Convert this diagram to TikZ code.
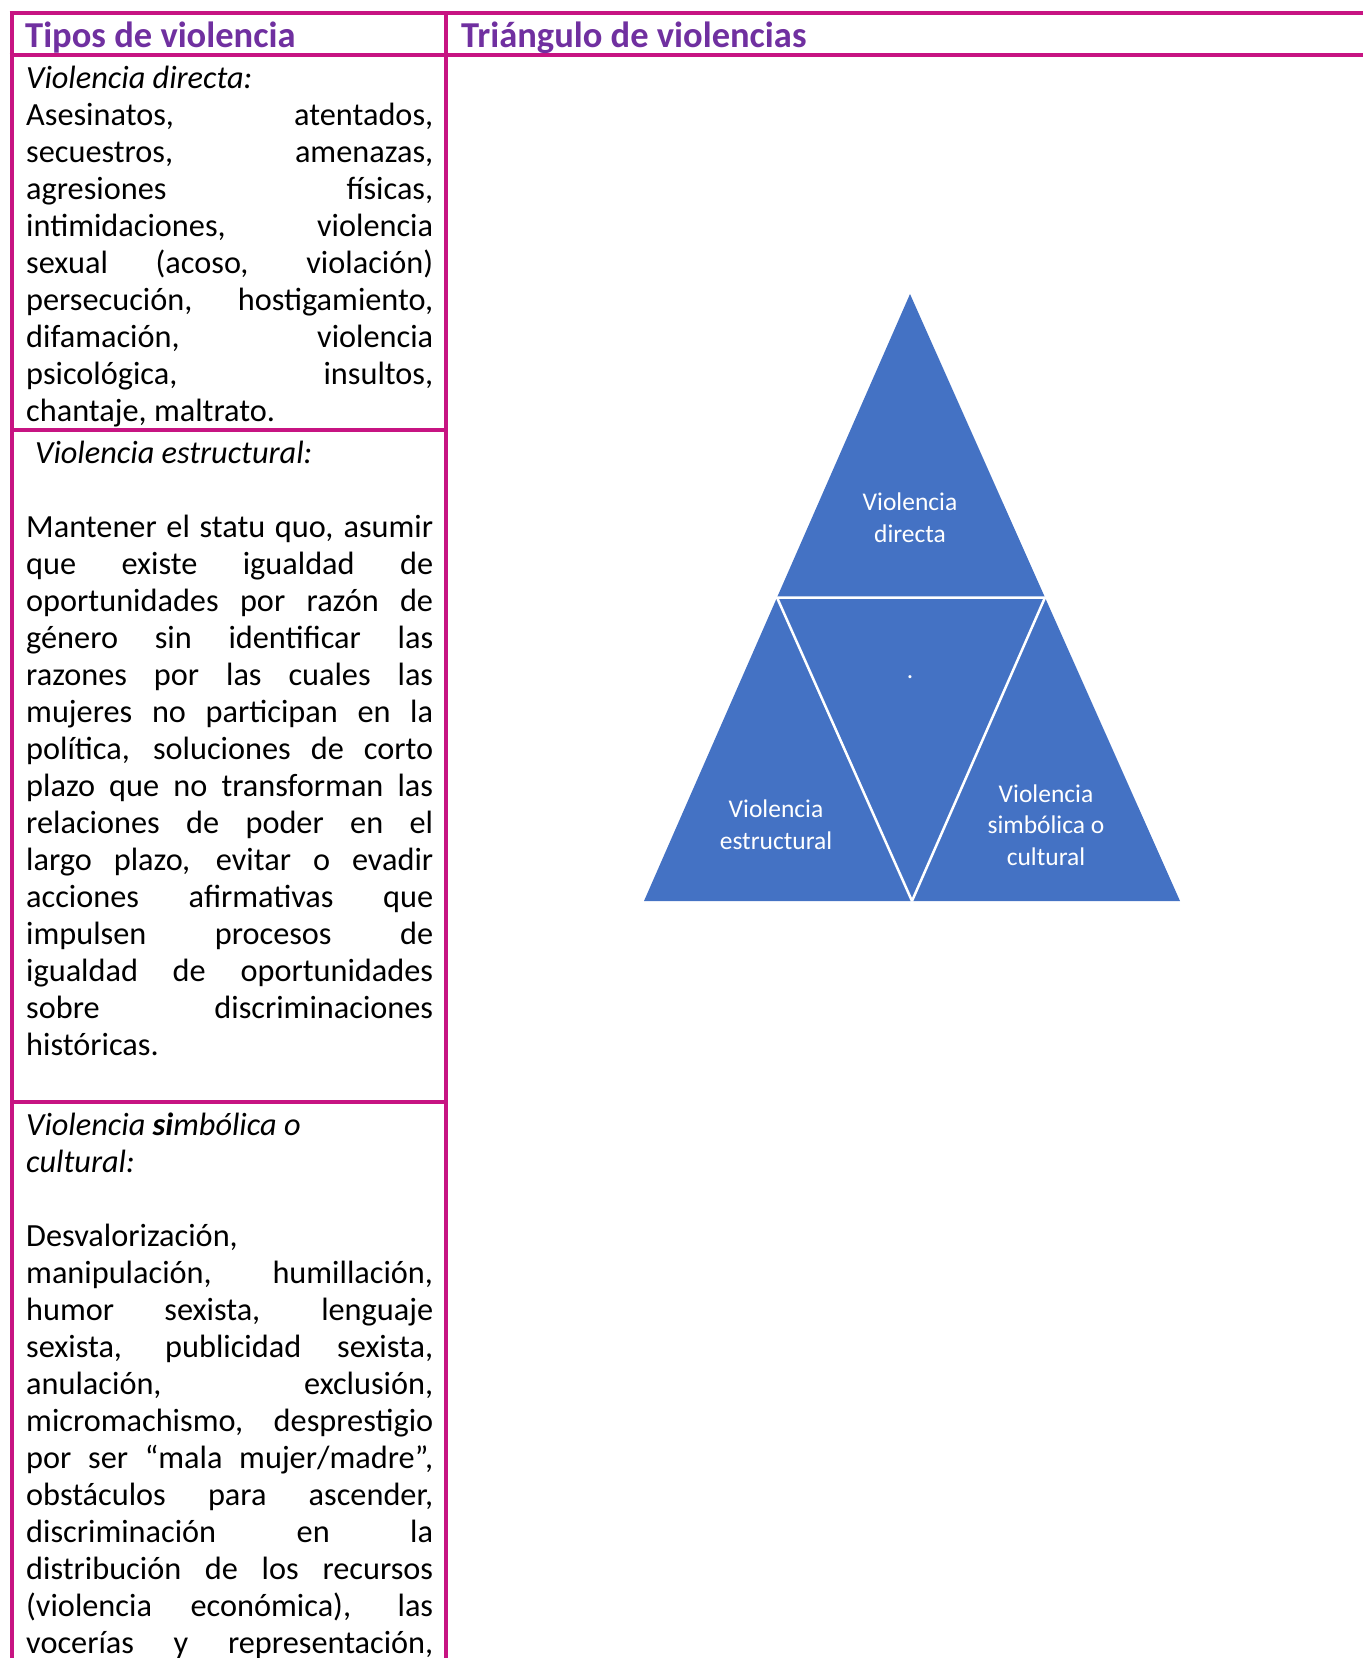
\documentclass[tikz,border=0pt]{standalone}
\usepackage{fontspec}
\setmainfont{Carlito}
\definecolor{borde}{RGB}{199,20,130}
\definecolor{morado}{RGB}{112,48,160}
\definecolor{azul}{RGB}{68,114,196}
\newcommand{\justa}[1]{{\spaceskip=0pt\xspaceskip=0pt\makebox[407pt][s]{#1}}}
\tikzset{
  marco/.style={line width=4pt, color=borde},
  titulo/.style={anchor=base west, inner sep=0pt, text=morado, font=\fontsize{36.5}{40}\selectfont\bfseries},
  celda/.style={anchor=base west, inner sep=0pt, text width=407pt, align=flush left, font=\fontsize{32.3}{37}\selectfont},
  etiqueta/.style={align=center, text=white, inner sep=0pt, font=\fontsize{25.5}{31.7}\selectfont}
}
\begin{document}
\begin{tikzpicture}[x=1pt, y=-1pt]
      \useasboundingbox (0,0) rectangle (1363,1658);
      \def\xa{11.5}
      \def\xb{446}
      \def\xc{1363}
      % tabla
      \draw[marco] (\xa-2,13) -- (\xc,13);
      \draw[marco] (\xa-2,55) -- (\xc,55);
      \draw[marco] (\xa,430) -- (\xb,430);
      \draw[marco] (\xa,1102) -- (\xb,1102);
      \draw[marco] (\xa,11) -- (\xa,1658);
      \draw[marco] (\xb,11) -- (\xb,1658);
      \node[titulo] (tipos) at (25,47.5) {Tipos de violencia};
      \node[titulo] (triangulo) at (461,47.5) {Triángulo de violencias};
      \node[celda] (directa-txt) at (26,88.7) {\textit{Violencia directa:}\\
        \justa{Asesinatos, atentados,}\\
        \justa{secuestros, amenazas,}\\
        \justa{agresiones físicas,}\\
        \justa{intimidaciones, violencia}\\
        \justa{sexual (acoso, violación)}\\
        \justa{persecución, hostigamiento,}\\
        \justa{difamación, violencia}\\
        \justa{psicológica, insultos,}\\
        chantaje, maltrato.};
      \node[celda] (estructural-txt) at (26,463) {\hspace*{9pt}\textit{Violencia estructural:}\\[37pt]
        \justa{Mantener el statu quo, asumir}\\
        \justa{que existe igualdad de}\\
        \justa{oportunidades por razón de}\\
        \justa{género sin identificar las}\\
        \justa{razones por las cuales las}\\
        \justa{mujeres no participan en la}\\
        \justa{política, soluciones de corto}\\
        \justa{plazo que no transforman las}\\
        \justa{relaciones de poder en el}\\
        \justa{largo plazo, evitar o evadir}\\
        \justa{acciones afirmativas que}\\
        \justa{impulsen procesos de}\\
        \justa{igualdad de oportunidades}\\
        \justa{sobre discriminaciones}\\
        históricas.};
      \node[celda] (simbolica-txt) at (26,1135) {\textit{Violencia \textbf{si}mbólica o}\\
        \textit{cultural:}\\[37pt]
        Desvalorización,\\
        \justa{manipulación, humillación,}\\
        \justa{humor sexista, lenguaje}\\
        \justa{sexista, publicidad sexista,}\\
        \justa{anulación, exclusión,}\\
        \justa{micromachismo, desprestigio}\\
        \justa{por ser “mala mujer/madre”,}\\
        \justa{obstáculos para ascender,}\\
        \justa{discriminación en la}\\
        \justa{distribución de los recursos}\\
        \justa{(violencia económica), las}\\
        \justa{vocerías y representación,}};
      % triangulo
      \coordinate (cima) at (910,294);
      \coordinate (izq) at (644,901);
      \coordinate (der) at (1180,901);
      \coordinate (mi) at (777,597.5);
      \coordinate (md) at (1045,597.5);
      \coordinate (mb) at (912,901);
      \fill[azul] (cima) -- (izq) -- (der) -- cycle;
      \draw[white, line width=2.5pt, line join=bevel] (mi) -- (md) -- (mb) -- cycle;
      \node[etiqueta] (directa) at (910,518) {Violencia\\directa};
      \node[etiqueta] (estructural) at (776,825) {Violencia\\estructural};
      \node[etiqueta] (simbolica) at (1046,825) {Violencia\\simbólica o\\cultural};
      \node[etiqueta] (punto) at (910,677) {.};
\end{tikzpicture}
\end{document}
